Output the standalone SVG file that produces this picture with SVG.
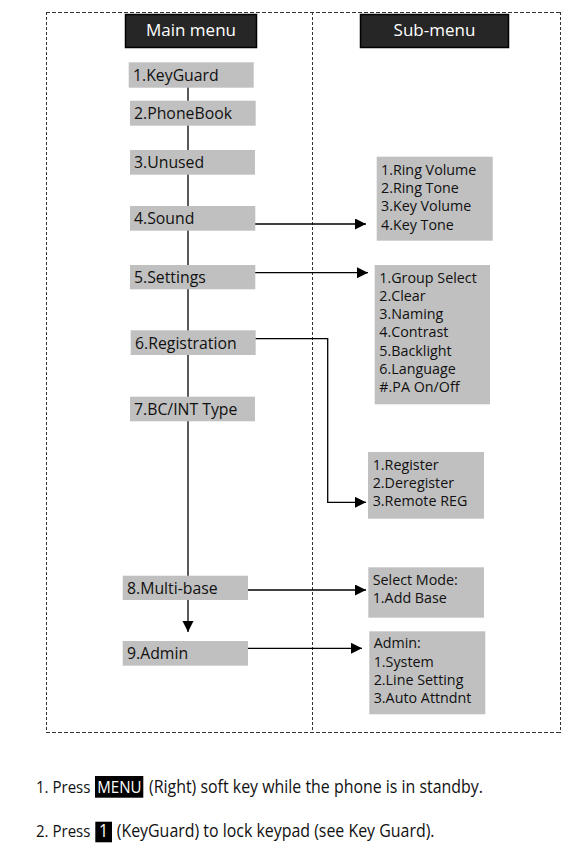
<svg xmlns="http://www.w3.org/2000/svg" width="570" height="849" viewBox="0 0 570 849">
<style>
text{font-family:"Open Sans","Liberation Sans",sans-serif;fill:#111}
.item{font-size:15.8px}
.sub{font-size:14.3px}
.hdr{font-size:17px;fill:#fff}
.box{fill:#c0c0c0}
.dark{fill:#262626;stroke:#000;stroke-width:1.5}
.frame{fill:none;stroke:#333;stroke-width:1;stroke-dasharray:4,2}
.vdash{fill:none;stroke:#333;stroke-width:1;stroke-dasharray:3,2}
.conn{fill:none;stroke:#000;stroke-width:1.3}
.note{font-size:18px}
.sm{font-size:17px}
.inv{fill:#fff}
</style>
<defs>
<marker id="ah" markerUnits="userSpaceOnUse" markerWidth="12" markerHeight="12" refX="11" refY="5.5" orient="auto">
<path d="M0,0 L11,5.5 L0,11 Z" fill="#000"/>
</marker>
</defs>
<rect width="570" height="849" fill="#fff"/>
<g id="frame">
<path class="frame" d="M46,12.5 H560.5"/>
<path class="frame" d="M46,732.5 H560.5"/>
<path class="vdash" d="M46.5,12 V733"/>
<path class="vdash" d="M560.5,12 V733"/>
<path class="vdash" d="M312.5,12 V733"/>
</g>
<g id="connectors">
<path class="conn" d="M188,87 V576"/>
<path class="conn" d="M188,600 V632" marker-end="url(#ah)"/>
<path class="conn" d="M252,224 H366" marker-end="url(#ah)"/>
<path class="conn" d="M255,272.7 H368" marker-end="url(#ah)"/>
<path class="conn" d="M255,338.7 H327.7 V502.3 H366" marker-end="url(#ah)"/>
<path class="conn" d="M248,590 H366" marker-end="url(#ah)"/>
<path class="conn" d="M248,648.3 H362" marker-end="url(#ah)"/>
</g>
<g id="main-header"><rect class="dark" x="125.5" y="14.5" width="131" height="33"/><text class="hdr" x="191" y="35.5" text-anchor="middle">Main menu</text></g>
<g id="sub-header"><rect class="dark" x="360.5" y="14.5" width="148" height="33"/><text class="hdr" x="434.5" y="35.5" text-anchor="middle">Sub-menu</text></g>
<g id="m1"><rect class="box" x="128.7" y="62.3" width="125" height="25.4"/><text class="item" x="133" y="80.8">1.KeyGuard</text></g>
<g id="m2"><rect class="box" x="130" y="100.7" width="125.7" height="25"/><text class="item" x="134" y="119">2.PhoneBook</text></g>
<g id="m3"><rect class="box" x="130" y="150" width="125" height="24.7"/><text class="item" x="134" y="168">3.Unused</text></g>
<g id="m4"><rect class="box" x="130" y="206" width="125.3" height="24.7"/><text class="item" x="134" y="224">4.Sound</text></g>
<g id="m5"><rect class="box" x="130" y="265" width="125.3" height="24.3"/><text class="item" x="134" y="283">5.Settings</text></g>
<g id="m6"><rect class="box" x="130.7" y="330.3" width="125" height="24.7"/><text class="item" x="135" y="348.5">6.Registration</text></g>
<g id="m7"><rect class="box" x="130" y="396.7" width="125" height="24.6"/><text class="item" x="134" y="415">7.BC/INT Type</text></g>
<g id="m8"><rect class="box" x="122.7" y="575.7" width="125.3" height="24.3"/><text class="item" x="127" y="594">8.Multi-base</text></g>
<g id="m9"><rect class="box" x="122.7" y="641" width="125.3" height="24.7"/><text class="item" x="127" y="659">9.Admin</text></g>
<g id="s-sound"><rect class="box" x="376.7" y="156.7" width="116" height="84"/>
<text class="sub" x="381" y="175">1.Ring Volume</text><text class="sub" x="381" y="193.2">2.Ring Tone</text><text class="sub" x="381" y="211.4">3.Key Volume</text><text class="sub" x="381" y="229.6">4.Key Tone</text></g>
<g id="s-settings"><rect class="box" x="374.7" y="265" width="115.3" height="139.3"/>
<text class="sub" x="379.3" y="282.7">1.Group Select</text><text class="sub" x="379.3" y="300.9">2.Clear</text><text class="sub" x="379.3" y="319.1">3.Naming</text><text class="sub" x="379.3" y="337.3">4.Contrast</text><text class="sub" x="379.3" y="355.5">5.Backlight</text><text class="sub" x="379.3" y="373.7">6.Language</text><text class="sub" x="379.3" y="391.9">#.PA On/Off</text></g>
<g id="s-registration"><rect class="box" x="368" y="452" width="116" height="66.7"/>
<text class="sub" x="372.7" y="470">1.Register</text><text class="sub" x="372.7" y="488.2">2.Deregister</text><text class="sub" x="372.7" y="506.4">3.Remote REG</text></g>
<g id="s-multibase"><rect class="box" x="368.3" y="567.3" width="115.7" height="50.4"/>
<text class="sub" x="372.7" y="585">Select Mode:</text><text class="sub" x="372.7" y="603.3">1.Add Base</text></g>
<g id="s-admin"><rect class="box" x="369.3" y="631.3" width="116" height="83"/>
<text class="sub" x="373.7" y="648.3">Admin:</text><text class="sub" x="373.7" y="666.6">1.System</text><text class="sub" x="373.7" y="684.9">2.Line Setting</text><text class="sub" x="373.7" y="703.2">3.Auto Attndnt</text></g>
<g id="notes">
<rect x="95" y="776" width="48.3" height="21.7" fill="#000"/>
<rect x="95.3" y="821.7" width="16.7" height="20.6" fill="#000"/>
<text class="note" transform="scale(0.885,1)" y="793.3"><tspan x="40.68" class="sm">1. Press</tspan><tspan x="109.9" class="inv sm">MENU</tspan><tspan x="168.36">(Right) soft key while the phone is in standby.</tspan></text>
<text class="note" transform="scale(0.885,1)" y="837.3"><tspan x="40.68" class="sm">2. Press</tspan><tspan x="111.86" class="inv">1</tspan><tspan x="131.86">(KeyGuard) to lock keypad (see Key Guard).</tspan></text>
</g>
</svg>
